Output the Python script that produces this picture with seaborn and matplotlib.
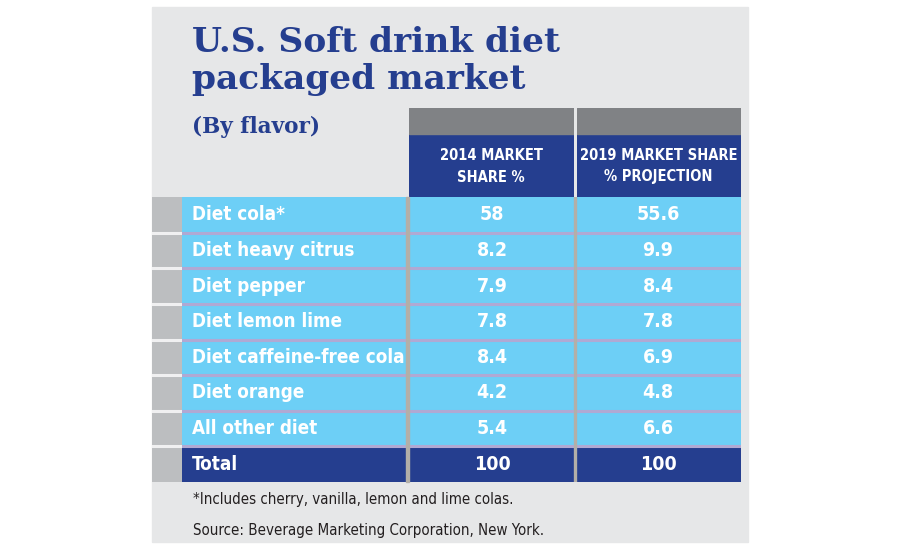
import numpy as np
import pandas as pd
import matplotlib
matplotlib.use("Agg")
import matplotlib.pyplot as plt
from matplotlib.colors import ListedColormap
from matplotlib.patches import Rectangle
import seaborn as sns

# --------------------------------------------------
# Data
# --------------------------------------------------
flavors = [
    "Diet cola*",
    "Diet heavy citrus",
    "Diet pepper",
    "Diet lemon lime",
    "Diet caffeine-free cola",
    "Diet orange",
    "All other diet",
    "Total",
]
share_2014 = [58, 8.2, 7.9, 7.8, 8.4, 4.2, 5.4, 100]
share_2019 = [55.6, 9.9, 8.4, 7.8, 6.9, 4.8, 6.6, 100]
col_headers = ["2014 MARKET\nSHARE %", "2019 MARKET SHARE\n% PROJECTION"]

title_lines = ["U.S. Soft drink diet", "packaged market"]
subtitle = "(By flavor)"
footnote = "*Includes cherry, vanilla, lemon and lime colas."
source = "Source: Beverage Marketing Corporation, New York."

# --------------------------------------------------
# Colours
# --------------------------------------------------
BG = "#e6e7e8"
NAVY = "#253e8f"
LIGHT = "#6dcff6"
HEAD_GRAY = "#808285"
TAB_GRAY = "#bcbec0"
LAVENDER = "#b0a9d3"
SEP_GRAY = "#b3afa8"
TEXT_DARK = "#231f20"

W, H = 900, 550
fig = plt.figure(figsize=(9, 5.5), dpi=100, facecolor="white")


def px_axes(x0, y0, x1, y1):
    # axes from pixel box (top-left origin)
    ax = fig.add_axes([x0 / W, 1 - y1 / H, (x1 - x0) / W, (y1 - y0) / H])
    return ax


def fy(y):
    return 1 - y / H


# panel background
fig.patches.append(Rectangle((152 / W, fy(542)), (748 - 152) / W, (542 - 7) / H,
                             transform=fig.transFigure, color=BG, zorder=-5))

# --------------------------------------------------
# Title
# --------------------------------------------------
serif = ["DejaVu Serif"]
fig.text(192 / W, fy(52), title_lines[0], fontsize=24.8, fontweight="bold",
         family=serif, color=NAVY, va="baseline")
fig.text(192 / W, fy(89), title_lines[1], fontsize=24.8, fontweight="bold",
         family=serif, color=NAVY, va="baseline")
fig.text(192 / W, fy(133), subtitle, fontsize=15.5, fontweight="bold",
         family=serif, color=NAVY, va="baseline")

narrow = dict(family=["DejaVu Sans"], stretch="condensed")

# --------------------------------------------------
# Column headers
# --------------------------------------------------
for (x0, x1), label in zip([(409, 573.5), (576.5, 741)], col_headers):
    ax = px_axes(x0, 108, x1, 197)
    ax.set_xlim(0, 1)
    ax.set_ylim(0, 1)
    ax.axis("off")
    ax.add_patch(Rectangle((0, 0), 1, 63 / 89, color=NAVY))
    ax.add_patch(Rectangle((0, 63 / 89), 1, 26 / 89, color=HEAD_GRAY))
    ax.text(0.5, 30.5 / 89, label, ha="center", va="center", color="white",
            fontsize=10.5, fontweight="bold", linespacing=1.5, **narrow)

# --------------------------------------------------
# Table body
# --------------------------------------------------
n = len(flavors)
kind = np.array([0] * (n - 1) + [1])  # 0 = flavor row, 1 = total row
row_cmap = ListedColormap([LIGHT, NAVY])

# left tabs
ax_tab = px_axes(152, 197, 182, 482)
sns.heatmap(pd.DataFrame({"tab": np.zeros(n)}), ax=ax_tab, cbar=False,
            cmap=ListedColormap([TAB_GRAY]), xticklabels=False, yticklabels=False)
for i in range(1, n):
    ax_tab.axhline(i, color="#f0f0f1", lw=2.2)

# label column
ax_lab = px_axes(182, 197, 406, 482)
sns.heatmap(pd.DataFrame({"flavor": kind}, index=flavors), ax=ax_lab, cbar=False,
            cmap=row_cmap, vmin=0, vmax=1, xticklabels=False, yticklabels=False)
for i, name in enumerate(flavors):
    ax_lab.text(10 / 224, i + 0.5, name, transform=ax_lab.get_yaxis_transform(),
                ha="left", va="center", color="white", fontsize=13.5,
                fontweight="bold", **narrow)
for i in range(1, n):
    ax_lab.axhline(i, color=LAVENDER, lw=2.2)

# gray strip between label column and values
fig.patches.append(Rectangle((406 / W, fy(482)), 3 / W, (482 - 197) / H,
                             transform=fig.transFigure, color=SEP_GRAY, zorder=1))

# value columns
values = pd.DataFrame({"2014": share_2014, "2019": share_2019}, index=flavors)
annot = values.map(lambda v: f"{v:g}")
codes = pd.DataFrame({"2014": kind, "2019": kind}, index=flavors)
ax_val = px_axes(409, 197, 741, 482)
sns.heatmap(codes, ax=ax_val, cbar=False, cmap=row_cmap, vmin=0, vmax=1,
            annot=annot, fmt="", xticklabels=False, yticklabels=False,
            annot_kws={"color": "white", "fontsize": 14, "fontweight": "bold",
                       **narrow})
for i in range(1, n):
    ax_val.axhline(i, color=LAVENDER, lw=2.2)
ax_val.axvline(1, color=SEP_GRAY, lw=2.4)
# keep annotations white on both colours
for t in ax_val.texts:
    t.set_color("white")

# --------------------------------------------------
# Notes
# --------------------------------------------------
fig.text(193 / W, fy(504), footnote, fontsize=10.8, color=TEXT_DARK,
         va="baseline", **narrow)
fig.text(193 / W, fy(535), source, fontsize=10.8, color=TEXT_DARK,
         va="baseline", **narrow)

fig.savefig("out.png", dpi=100, facecolor="white")
